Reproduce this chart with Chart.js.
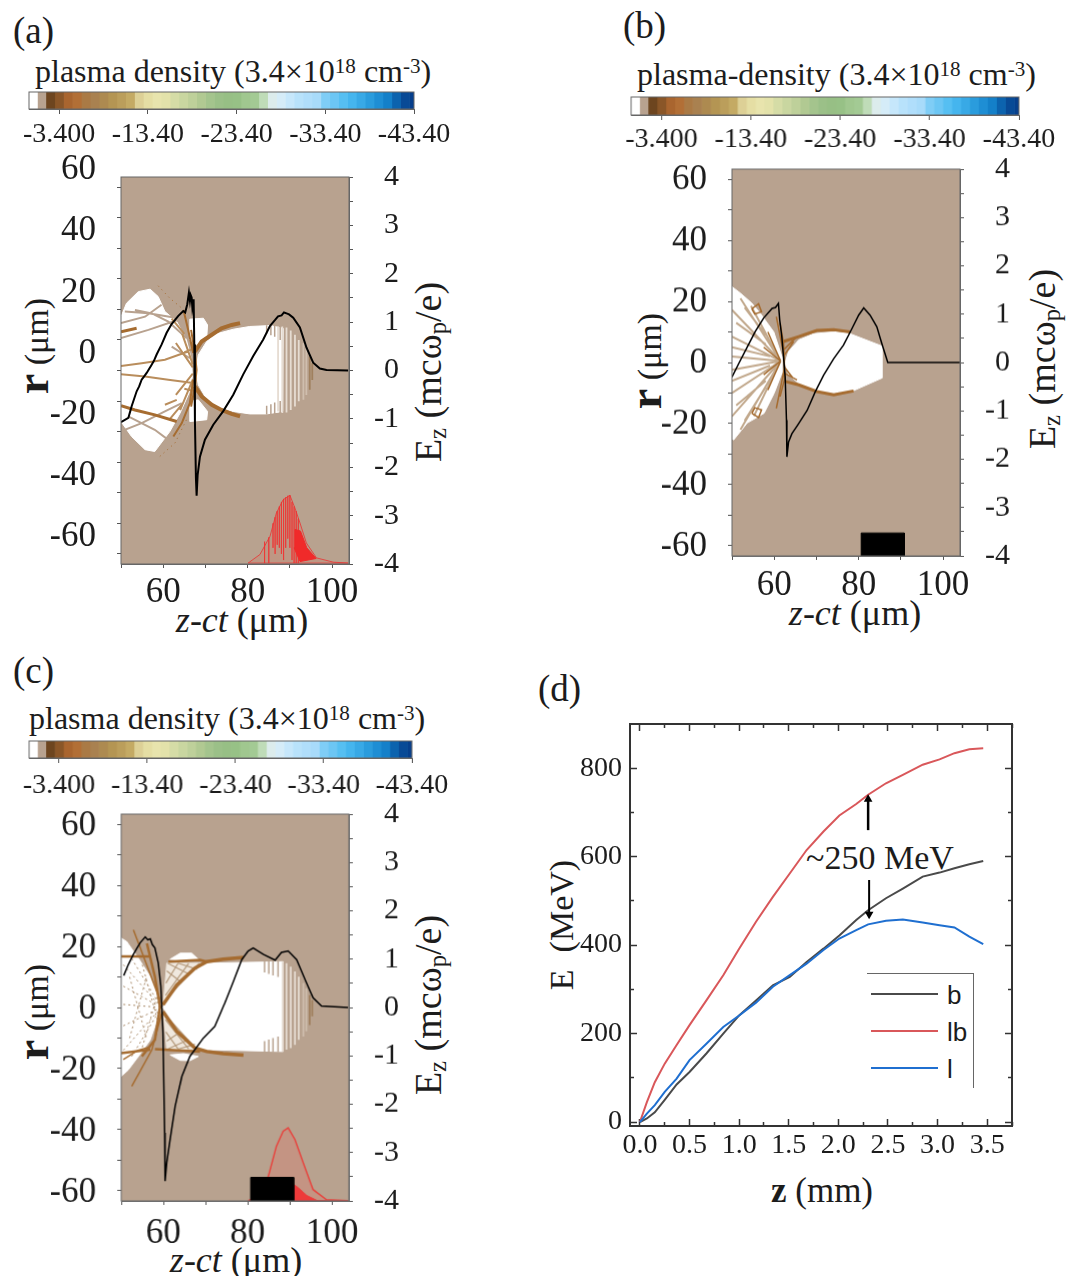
<!DOCTYPE html>
<html>
<head>
<meta charset="utf-8">
<title>Plasma density and energy gain</title>
<script src="https://cdn.jsdelivr.net/npm/chart.js@4"></script>
<style>
  body { margin: 0; background: #fff; }
  #stage { position: relative; width: 1074px; height: 1276px; overflow: hidden; font-family: "Liberation Serif", serif; color: #1c1c1c; }
  canvas { position: absolute; }
  .t { position: absolute; white-space: nowrap; line-height: 1; }
  .mid { transform: translate(-50%, -50%); }
  .up { transform: translate(-50%, -50%) rotate(-90deg); }
  sup { font-size: 66%; line-height: 0; vertical-align: baseline; position: relative; top: -0.42em; }
  sub { font-size: 65%; line-height: 0; vertical-align: baseline; position: relative; top: 0.2em; }
  .leg { position: absolute; background: #666; }
  .lab { position: absolute; font-family: "Liberation Sans", sans-serif; font-size: 26px; line-height: 1; }
</style>
</head>
<body>
<div id="stage">
  <div class="t" style="left:13px;top:12px;font-size:37px">(a)</div>
  <div class="t" style="left:623px;top:7px;font-size:37px">(b)</div>
  <div class="t" style="left:13px;top:652px;font-size:37px">(c)</div>
  <div class="t" style="left:538px;top:670px;font-size:37px">(d)</div>

  <div class="t" style="left:35px;top:55px;font-size:32px">plasma density (3.4×10<sup>18</sup> cm<sup>-3</sup>)</div>
  <div class="t" style="left:637px;top:58px;font-size:32px">plasma-density (3.4×10<sup>18</sup> cm<sup>-3</sup>)</div>
  <div class="t" style="left:29px;top:702px;font-size:32px">plasma density (3.4×10<sup>18</sup> cm<sup>-3</sup>)</div>

  <div class="t up" style="left:33px;top:346px;font-size:34px"><b style="font-size:46px">r</b> (μm)</div>
  <div class="t up" style="left:646px;top:361px;font-size:34px"><b style="font-size:46px">r</b> (μm)</div>
  <div class="t up" style="left:33px;top:1012px;font-size:34px"><b style="font-size:46px">r</b> (μm)</div>

  <div class="t up" style="left:428px;top:372px;font-size:38px">E<sub>z</sub> (mcω<sub>p</sub>/e)</div>
  <div class="t up" style="left:1042px;top:359px;font-size:38px">E<sub>z</sub> (mcω<sub>p</sub>/e)</div>
  <div class="t up" style="left:428px;top:1005px;font-size:38px">E<sub>z</sub> (mcω<sub>p</sub>/e)</div>

  <div class="t mid" style="left:242px;top:620px;font-size:36px"><i>z-ct</i> (μm)</div>
  <div class="t mid" style="left:855px;top:613px;font-size:36px"><i>z-ct</i> (μm)</div>
  <div class="t mid" style="left:236px;top:1260px;font-size:36px"><i>z-ct</i> (μm)</div>

  <div class="t mid" style="left:822px;top:1190px;font-size:35px"><b>z</b> (mm)</div>
  <div class="t up" style="left:562px;top:925px;font-size:34px">E&nbsp; (MeV)</div>
  <div class="t mid" style="left:880px;top:858px;font-size:34px">~250 MeV</div>

  <div class="leg" style="left:867px;top:973px;width:106px;height:1px"></div>
  <div class="leg" style="left:973px;top:973px;width:1px;height:115px"></div>
  <div class="leg" style="left:871px;top:993px;width:67px;height:2px;background:#4a4a4a"></div>
  <div class="leg" style="left:871px;top:1030px;width:67px;height:2px;background:#d9575a"></div>
  <div class="leg" style="left:871px;top:1067px;width:67px;height:2px;background:#1f6fd0"></div>
  <div class="lab" style="left:947px;top:982px">b</div>
  <div class="lab" style="left:947px;top:1019px">lb</div>
  <div class="lab" style="left:947px;top:1056px">l</div>
</div>

<script>
// ---------- axis ticks ----------
var zTicks = [50, 60, 70, 80, 90, 100];
var zLabels = [60, 80, 100];
var rTicks = [-60, -50, -40, -30, -20, -10, 0, 10, 20, 30, 40, 50, 60];
var rLabels = [-60, -40, -20, 0, 20, 40, 60];
var ezTicks = [-4, -3.5, -3, -2.5, -2, -1.5, -1, -0.5, 0, 0.5, 1, 1.5, 2, 2.5, 3, 3.5, 4];
var ezLabels = [-4, -3, -2, -1, 0, 1, 2, 3, 4];

// ---------- colour bar ----------
var cbTicks = [-3.4, -13.4, -23.4, -33.4, -43.4];
var cbLabels = ['-3.400', '-13.40', '-23.40', '-33.40', '-43.40'];
var cbWidths = [0.95, 0.95, 1, 1, 1, 1, 1, 1, 1, 1, 1, 1, 1, 1, 1, 1, 1, 1, 1, 1, 1, 1, 1, 1, 1, 1, 1, 1, 1, 1, 1, 1, 1, 1, 1, 1, 1, 1, 1, 1, 1, 1, 1, 0.5];
var cbColors = ['#ffffff', '#b8a28f',
  '#6d451f', '#8a5628', '#a9652f', '#b26f36', '#aa7a45', '#a98150', '#ad8a50', '#b49553', '#bb9e5b', '#c4aa64',
  '#ddd096', '#e5dea4', '#e8e4ad', '#e3e2aa',
  '#d5dca6', '#c9d6a0', '#bed09a', '#b1c992', '#a4c48d', '#9bc088', '#97bf85', '#97c186', '#a0c78f', '#a3ca94',
  '#bfdcb8', '#dcecec',
  '#d5ecf8', '#c6e7fb', '#b8e2fb', '#b0defb', '#a8dbfa',
  '#7fcdf6', '#6cc6f4', '#56bff2', '#45b5ee', '#38a9e6', '#2a9cdd',
  '#1e8ed4', '#1480c9', '#0c63ae', '#084a96', '#063f8c'];

// ---------- panel (a), [z, value] ----------
var aEz = [[50,-1.07],[51.74,-0.98],[52.2,-0.84],[52.52,-0.74],[53.71,-0.43],[54.3,-0.33],[54.89,-0.19],[55.4,-0.13],[56.08,-0.05],[57.26,0.12],[57.8,0.2],[58.44,0.33],[59.63,0.54],[60.81,0.78],[61.99,0.96],[63.57,1.13],[64.75,1.23],[65.2,1.2],[65.7,1.37],[66.09,1.61],[66.33,1.44],[66.5,1.56],[66.73,1.51],[66.9,1.3],[67.2,1.47],[67.36,0.54],[67.51,-1.05],[67.75,-2.23],[67.91,-2.59],[68.15,-2.16],[68.7,-1.78],[69.88,-1.43],[71.85,-1.12],[74.22,-0.84],[76.59,-0.5],[78.95,-0.08],[81.32,0.3],[83.69,0.64],[85.27,0.92],[86.45,1.04],[87.2,1.12],[88.03,1.14],[88.6,1.2],[89.21,1.18],[89.8,1.16],[90.79,1.09],[92.37,0.89],[93.94,0.47],[95.52,0.16],[97.1,0.04],[98.68,0.01],[103.8,0]];
var aWake = [[50,13.3],[50,17.6],[51.3,22],[54.1,25.8],[56.9,26.6],[58.8,24.2],[60.4,19.3],[63.2,16],[65.5,10],[66.7,3.5],[66.9,-2],[66.1,-7.4],[64,-13.9],[61.6,-19.9],[58,-26.5],[55.7,-25.9],[52.5,-21.6],[50,-16.7]];
var aEarTop = [[66.3,16.8],[69.5,17.1],[70.5,14.9],[70.3,10.6],[67.9,8.4],[66.3,10]];
var aEarBottom = [[66.3,-10.1],[68.3,-9.6],[70.5,-13.4],[70.3,-16.1],[66.3,-16.7]];
var aBubble = [[67.75,0],[68.3,5.1],[70.3,9.5],[72.6,12],[76.6,13.5],[80.5,14.4],[85.3,14.7],[88.4,13.8],[88.3,-13.4],[84.5,-14.2],[80.5,-14.2],[76.6,-13.4],[72.6,-11.8],[69.9,-8.5],[68.3,-4.7]];
var aStripesLight = [[87.2,14.4,-13.4],[88.2,14.4,-13.9],[89.2,14.1,-13.7],[90.2,13.1,-12.9],[91.2,11.7,-11.8],[92.1,10,-10.1]];
var aStripesMid = [[93.2,8.9,-9.6],[93.9,7.3,-8]];
var aStripesDark = [[94.7,4.6,-6.3],[95.3,2.4,-3.1]];
var aComb = [[84.5,14.8,12],[85.5,14.8,11.5],[86.4,14.8,11],[87.7,14.8,10],[84.5,-11.5,-14.4],[85.5,-11,-14.4],[86.4,-10.5,-14.4],[87.7,-10,-14.4]];
var aSheathTop = [[67.5,6.2],[69.1,9.5],[71.5,11.7],[73.8,13.8],[76.2,14.9],[78.2,15.5]];
var aSheathBottom = [[67.5,-5.2],[69.1,-8.5],[71.5,-11.2],[73.8,-12.9],[76.2,-14.2],[78.2,-15]];
var aArc = [[[66.6,13.3],[67.5,5.7],[67.9,0.2],[67.5,-5.2],[66.6,-11.8]],[[64.8,19.8],[65.9,13.3],[67.1,5.7]],[[67.1,-3],[66.3,-10.7],[64.4,-17.2],[62.4,-21.6]]];
var aStreakThick = [[[50,12.7],[53.7,13.8]],[[50,-11.5],[53.3,-12.9],[58,-14.5],[63.2,-16.7]]];
var aStreakBrown = [[[50,1.5],[54.9,2.4],[60.4,3.5],[65.9,6.2]],[[50,-1.2],[55.7,-2],[61.2,-3],[67.1,-4.1]],[[60.4,-11.2],[63.2,-9.6]],[[64.5,12],[67,2]],[[64,-13],[67,-3]],[[63,9],[67,1]],[[63,-8],[67,-1]],[[65,6],[68,7.5]],[[65,-6],[68,-7]],[[62,17],[65,12]],[[61.5,-16],[64.5,-11]]];
var aStreakBg = [[[50.9,19.3],[56.5,18.7],[63.6,17.1]],[[53.3,19.8],[57.3,18.7],[61.2,16],[65.5,10.6]],[[50,15.5],[55.7,17.6],[59.6,21.5]],[[50,10.6],[56.5,13.3],[63.6,16.6]],[[50,-19.9],[54.9,-17.2],[60.4,-13.4],[64.4,-10.7]],[[51.7,-15],[58,-19.4],[61.2,-22.7]],[[62,7.8],[66.3,4]]];
var aRim = [[[58.8,27.7],[61.6,23.6],[64.4,20.4]],[[59.2,-28.1],[62.8,-23.7],[65.9,-15]]];
var aRed = [[80.1,-63],[82.9,-60.2],[85.3,-54.2],[86.8,-46.6],[88.4,-42.3],[90,-40.8],[91.2,-45],[92.4,-49.9],[93.9,-56.4],[96.3,-61.3],[100.3,-62.7],[103.8,-63]];
var aRedBlob = [[91.2,-52],[92.5,-52.5],[94,-58],[96.2,-61.5],[92.4,-62.5],[91,-58]];
var aRedStripes = [[84,-56,-63],[85,-54.6,-63],[86,-50,-58],[86.5,-48,-60],[87,-46,-57],[87.5,-44.5,-58],[88,-43,-60],[88.5,-42,-62],[89,-41.5,-58],[89.5,-41,-55],[90,-40.8,-58],[90.5,-43,-62],[91,-44.5,-63],[91.5,-46,-63],[92,-48.5,-63]];

// ---------- panel (b) ----------
var bEz = [[50,-0.3],[51.6,-0.02],[53.6,0.32],[55.5,0.64],[57.5,0.92],[59.5,1.12],[60.3,1.14],[61,1.22],[61.3,0.88],[61.8,0.53],[62.6,-0.3],[62.9,-1.19],[63,-1.95],[63.4,-1.64],[64.2,-1.47],[65.8,-1.26],[67.8,-0.99],[69.7,-0.61],[71.7,-0.26],[74.1,0.08],[76.4,0.36],[78.4,0.7],[80,0.98],[81.2,1.13],[82.7,0.98],[84.3,0.74],[85.5,0.39],[86.9,0],[104,0]];
var bWake = [[50,24.8],[52,22.7],[54.7,19.4],[56.7,16.1],[59.9,10],[61.8,2],[61.8,-3.5],[60,-10],[57.6,-16.6],[53.6,-19.8],[50.4,-25.3],[50,-25]];
var bBubble = [[62.6,0],[63.4,3.6],[65.8,7.4],[69.3,9.4],[74.1,10.1],[78,9.4],[85.5,5.4],[85.5,-5.1],[78.8,-9.2],[74.1,-10],[69.3,-9.2],[65.8,-6.8],[63.4,-4]];
var bSheathTop = [[62.2,6.9],[65.8,8.5],[70.1,10.5],[74.1,10.7],[78,10]];
var bSheathBottom = [[62.6,-6.2],[65.8,-7.3],[70.1,-9.5],[74.1,-10.6],[78.8,-9.3]];
var bThreads = [[[62.2,4.1],[65,8]],[[62.2,2],[64.6,6.9]],[[62.4,-3.5],[65.4,-5.7]],[[62.4,-1.5],[64.4,-5]],[[61.4,12.9],[62.2,6.3],[62.4,0.9],[62.4,-5.7],[61.4,-11.1]],[[54.7,17.6],[56.3,19.2],[57,16.6],[55.4,15.9],[54.7,17.6]],[[54.7,-16.6],[56.3,-18],[57,-15.5],[55.4,-14.8],[54.7,-16.6]],[[60.5,15],[62.2,3]],[[60.5,-15],[62.4,-2]],[[61.5,0.5],[58.5,10]],[[61.5,0.5],[58.5,-9]],[[61.5,0.5],[57.5,5]],[[61.5,0.5],[57.5,-4]]];
var bRays = [[[61.5,0.5],[50,17.2]],[[61.5,0.5],[50,8.5]],[[61.5,0.5],[50,2]],[[61.5,0.5],[50,-2.4]],[[61.5,0.5],[50,-10]],[[61.5,0.5],[50,-17.6]],[[61.5,0.5],[54.5,18.5]],[[61.5,0.5],[55.2,-17.5]],[[61.5,0.5],[52,21]],[[61.5,0.5],[52,-22]],[[58,6],[51,13]],[[58,-6],[51,-14]],[[59,2],[50,5]],[[59,-1],[50,-6]],[[58,9],[53,18]],[[58,-8],[53,-19]]];
var bBlock = [[80.6,-55.8],[90.8,-55.8],[90.8,-63.5],[80.6,-63.5]];

// ---------- panel (c) ----------
var cEz = [[50.6,0.66],[51.7,0.89],[52.9,1.1],[54.5,1.34],[55.7,1.46],[56.3,1.4],[56.9,1.42],[57.4,1.3],[58,1.23],[58.8,0.92],[59.4,0.44],[59.9,-0.52],[60.3,-2.59],[60.4,-3.59],[60.8,-3.21],[61.6,-2.73],[62.8,-2.04],[64.4,-1.42],[66.3,-1.01],[69.5,-0.63],[72.2,-0.39],[74.6,0.1],[76.6,0.54],[78.6,0.99],[80.1,1.17],[81.3,1.23],[83.7,1.1],[86.5,0.98],[88,1.14],[89.6,1.17],[91.6,0.99],[93.6,0.58],[95.5,0.2],[97.5,0.03],[103.8,0]];
var cWake = [[50,22.7],[51.3,21.6],[54.1,16.1],[56.9,10.1],[59.6,0.3],[56.9,-10.6],[54.1,-16],[51.7,-20.4],[50,-22.5]];
var cBubble = [[59.9,0],[63.2,7.4],[67.5,12.9],[70.3,14.5],[88.4,15],[88.4,-14.4],[70.3,-13.8],[67.5,-12.7],[63.2,-7.3]];
var cEarTop = [[61.6,15.8],[64,17.8],[66.7,17.8],[68.3,15.8],[64.8,15.3]];
var cEarBottom = [[61.6,-15.5],[64,-17.3],[66.3,-17.4],[68.3,-16],[64.8,-15.1]];
var cMeshTop = [[60,1.4],[60.8,14.5],[69.5,14.5],[64.9,9]];
var cMeshBottom = [[60,-1.3],[60.8,-13.6],[68.7,-13.6],[64,-7.3]];
var cMeshHatch = [[[60.5,4],[66,14.5]],[[60.6,8],[63.5,14.5]],[[61.5,4],[68.5,14.5]],[[60.8,12],[64,8.5]],[[61,14.5],[66,11]],[[63.5,14.5],[68,12.5]],[[60.5,-4],[66,-13.6]],[[60.6,-8],[63.5,-13.6]],[[61.5,-4],[67.8,-13.6]],[[60.8,-11],[64,-8]],[[61,-13.6],[66,-10.5]],[[63.5,-13.6],[67.5,-12]]];
var cFanDots = [[[50.5,14],[59.5,0]],[[52.5,16],[59.5,0]],[[50.5,7],[59.5,0]],[[50.5,1],[59.5,0]],[[50.5,-6],[59.5,0]],[[50.5,-14],[59.5,0]],[[52.5,-16],[59.5,0]],[[55,14],[59,-6]],[[55,-13],[59,6]],[[52,10],[56,-10]],[[52,-10],[56,10]]];
var cStripesLight = [[88.3,15,-14.4],[89.2,14.5,-13.8],[90.2,13.4,-13.3],[91.2,11.8,-12.2],[92.1,10.1,-10.6]];
var cStripesMid = [[93.2,8,-9.5],[93.9,6.3,-7.8]];
var cStripesDark = [[94.7,4.1,-5.7],[95.3,2.5,-2.9]];
var cComb = [[84,15.2,11.5],[85,15.2,11],[86,15.2,10.5],[87.2,15.2,10],[84,-11,-14.6],[85,-10.5,-14.6],[86,-10,-14.6],[87.2,-9.5,-14.6]];
var cSheathTop = [[59.9,0.9],[63.2,7.4],[67.5,12.9],[70.3,15],[74.2,15.8],[79,16.4]];
var cSheathBottom = [[59.9,-1.3],[63.2,-7.8],[67.5,-13.3],[70.3,-14.4],[74.2,-15.1],[79,-15.6]];
var cFlats = [[[61.2,15],[68.7,15.6],[70.3,15]],[[58,-13.6],[68.7,-14.4]],[[50,16.7],[56.9,16.7]],[[50,-14.9],[56.9,-13.8]]];
var cCore = [[56.1,21],[58,10.1],[59.2,0.3],[58,-10.6],[54.9,-16]];
var cFan = [[[52.9,25.4],[59.2,2.5]],[[52.5,-25.8],[57.3,-13.8],[59.6,-1.9]],[[50.5,-17],[54,-14],[56.5,-13]]];
var cRed = [[80.1,-63.2],[82.9,-61.8],[84.9,-55.2],[86.8,-45.4],[88.4,-40.5],[89.6,-39.4],[91.2,-43.2],[93.2,-50.9],[95.5,-59.6],[98.7,-62.9],[103.8,-63.2]];
var cRedBlob = [[91,-58],[92,-59],[94,-61.5],[96.5,-63.2],[91,-63.2]];
var cBlock = [[80.7,-55.6],[90.9,-55.6],[90.9,-63.5],[80.7,-63.5]];

// ---------- panel (d) ----------
var dZ = [0, 0.07, 0.15, 0.25, 0.37, 0.5, 0.67, 0.84, 1, 1.17, 1.34, 1.51, 1.68, 1.85, 2.01, 2.18, 2.3, 2.48, 2.65, 2.85, 3.02, 3.17, 3.32, 3.46];
var dB = [0, 8, 22, 50, 85, 113, 155, 200, 241, 275, 309, 328, 362, 392, 422, 457, 479, 506, 528, 555, 564, 574, 583, 590];
var dLb = [0, 45, 90, 132, 174, 219, 275, 332, 392, 453, 509, 562, 615, 657, 693, 719, 740, 766, 785, 808, 820, 834, 843, 845];
var dL = [0, 19, 38, 68, 98, 140, 177, 215, 241, 270, 306, 332, 358, 389, 415, 434, 447, 455, 458, 451, 445, 440, 419, 402];
var dZTicks = [0, 0.5, 1, 1.5, 2, 2.5, 3, 3.5];
var dZMinor = [0.25, 0.75, 1.25, 1.75, 2.25, 2.75, 3.25, 3.75];
var dETicks = [0, 200, 400, 600, 800];
var dEMinor = [100, 300, 500, 700];
var upArrow = [[2.3, 660], [2.3, 730]];
var downArrow = [[2.31, 547], [2.31, 470]];

var FIELD = '#b8a28f';
var BROWN = '#a66c30';
var TAN = '#b98d5c';

Chart.defaults.font.family = '"Liberation Serif", serif';
Chart.defaults.color = '#1c1c1c';
Chart.defaults.animation = false;

// background and outline of a plot
Chart.register({
  id: 'plotFrame',
  beforeDatasetsDraw: function(chart, args, opts) {
    if (!opts.fill) return;
    var a = chart.chartArea;
    chart.ctx.fillStyle = opts.fill;
    chart.ctx.fillRect(a.left, a.top, a.right - a.left, a.bottom - a.top);
  },
  afterDatasetsDraw: function(chart, args, opts) {
    if (!opts.color) return;
    var a = chart.chartArea;
    chart.ctx.strokeStyle = opts.color;
    chart.ctx.lineWidth = opts.width || 1;
    chart.ctx.strokeRect(a.left, a.top, a.right - a.left, a.bottom - a.top);
  }
});

function pts(list) {
  return list.map(function(p) { return { x: p[0], y: p[1] }; });
}

function line(list, color, width, axis) {
  return { data: pts(list), showLine: true, fill: false, borderColor: color, borderWidth: width, pointRadius: 0, yAxisID: axis || 'y', tension: 0 };
}

function poly(list, color) {
  var ds = line(list.concat([list[0]]), color, 1);
  ds.fill = 'shape';
  ds.backgroundColor = color;
  return ds;
}

// many separate pieces in one dataset, split by gaps
function segs(groups, color, width, dash) {
  var flat = [];
  groups.forEach(function(g) {
    flat = flat.concat(g);
    flat.push([NaN, NaN]);
  });
  var ds = line(flat, color, width);
  if (dash) ds.borderDash = dash;
  return ds;
}

function stripes(list, color, width) {
  return segs(list.map(function(s) { return [[s[0], s[1]], [s[0], s[2]]]; }), color, width);
}

function addCanvas(left, top, w, h) {
  var cv = document.createElement('canvas');
  cv.width = w;
  cv.height = h;
  cv.style.left = left + 'px';
  cv.style.top = top + 'px';
  cv.style.width = w + 'px';
  cv.style.height = h + 'px';
  document.getElementById('stage').appendChild(cv);
  return cv;
}

function fixedTicks(values) {
  return function(scale) {
    scale.ticks = values.map(function(v) { return { value: v }; });
  };
}

function colorBar(left, top, right, bottom, labelPad) {
  var cv = addCanvas(left - 40, top - 2, right - left + 100, bottom - top + 46);
  var datasets = cbWidths.map(function(w, i) {
    return { data: [-w], backgroundColor: cbColors[i], borderWidth: 0, barPercentage: 1, categoryPercentage: 1 };
  });
  new Chart(cv, {
    type: 'bar',
    data: { labels: ['density'], datasets: datasets },
    options: {
      indexAxis: 'y',
      responsive: false,
      events: [],
      layout: { autoPadding: false, padding: { left: 40, right: 60, top: 2, bottom: 0 } },
      plugins: { legend: { display: false }, tooltip: { enabled: false }, plotFrame: { color: '#666' } },
      scales: {
        x: {
          type: 'linear', stacked: true, reverse: true, min: -43.4, max: 0,
          afterBuildTicks: fixedTicks(cbTicks),
          afterFit: function(s) { s.height = 44; },
          grid: { drawOnChartArea: false, tickLength: 5, color: '#555' },
          border: { color: '#666' },
          ticks: { font: { size: 28 }, padding: labelPad, autoSkip: false, maxRotation: 0, minRotation: 0,
            callback: function(v, i) { return cbLabels[i]; } }
        },
        y: { stacked: true, display: false }
      }
    }
  });
}

function fieldPanel(left, top, right, bottom, labelOffset, xPad, layers) {
  // top room has to cover half a label plus the tick padding, or the layout pushes the plot down
  var padL = 70, padR = 50, padT = 46, padB = 50;
  var cv = addCanvas(left - padL, top - padT, right - left + padL + padR, bottom - top + padT + padB);
  new Chart(cv, {
    type: 'scatter',
    data: { datasets: layers.slice().reverse() },
    options: {
      responsive: false,
      events: [],
      layout: { autoPadding: false, padding: { top: padT } },
      plugins: { legend: { display: false }, tooltip: { enabled: false }, plotFrame: { fill: FIELD, color: '#666' } },
      scales: {
        x: {
          type: 'linear', min: 50, max: 104,
          afterBuildTicks: fixedTicks(zTicks),
          afterFit: function(s) { s.height = padB; },
          grid: { drawOnChartArea: false, tickLength: 4, color: '#555' },
          border: { color: '#666' },
          ticks: { font: { size: 35 }, padding: xPad, autoSkip: false, maxRotation: 0, minRotation: 0,
            callback: function(v) { return zLabels.indexOf(v) >= 0 ? String(v) : ''; } }
        },
        y: {
          type: 'linear', min: -63.3, max: 63.3,
          afterBuildTicks: fixedTicks(rTicks),
          afterFit: function(s) { s.width = padL; },
          grid: { drawOnChartArea: false, tickLength: 4, color: '#555' },
          border: { color: '#666' },
          ticks: { font: { size: 35 }, padding: 21, autoSkip: false, labelOffset: labelOffset,
            callback: function(v) { return rLabels.indexOf(v) >= 0 ? String(v) : ''; } }
        },
        y2: {
          type: 'linear', position: 'right', min: -4, max: 4,
          afterBuildTicks: fixedTicks(ezTicks),
          afterFit: function(s) { s.width = padR; },
          grid: { drawOnChartArea: false, tickLength: 4, color: '#555' },
          border: { color: '#666' },
          ticks: { font: { size: 30 }, padding: 11, autoSkip: false, crossAlign: 'far',
            callback: function(v) { return ezLabels.indexOf(v) >= 0 ? String(v) : ''; } }
        }
      }
    }
  });
}

// tick-only axis that takes no room, used for the minor ticks and the far sides of panel (d)
function tickAxis(axis, position, min, max, values, len) {
  return {
    type: 'linear', axis: axis, position: position, min: min, max: max, weight: -1,
    afterBuildTicks: fixedTicks(values),
    afterFit: function(s) { if (axis === 'x') s.height = 0; else s.width = 0; },
    grid: { drawOnChartArea: false, tickLength: len, color: '#333', tickWidth: 1.5 },
    border: { display: false },
    ticks: { display: false, autoSkip: false }
  };
}

function energyPanel() {
  var cv = addCanvas(570, 684, 462, 492);
  var cols = [['#4a4a4a', dB], ['#d9575a', dLb], ['#1f6fd0', dL]];
  var layers = cols.map(function(c) {
    return line(dZ.map(function(z, i) { return [z, c[1][i]]; }), c[0], 2);
  });
  layers.push(line(upArrow, '#000', 2.5));
  layers.push(line(downArrow, '#000', 2));
  [[upArrow[1], 0], [downArrow[1], 180]].forEach(function(tip) {
    var ds = line([tip[0]], '#000', 0);
    ds.showLine = false;
    ds.pointStyle = 'triangle';
    ds.pointRadius = 5;
    ds.pointRotation = tip[1];
    ds.pointBackgroundColor = '#000';
    ds.pointBorderColor = '#000';
    layers.push(ds);
  });
  var xMin = -0.1, xMax = 3.75, yMin = -9, yMax = 900;
  new Chart(cv, {
    type: 'scatter',
    data: { datasets: layers.reverse() },
    options: {
      responsive: false,
      events: [],
      layout: { autoPadding: false, padding: { top: 40, right: 20 } },
      plugins: { legend: { display: false }, tooltip: { enabled: false }, plotFrame: { color: '#333', width: 2 } },
      scales: {
        x: {
          type: 'linear', min: xMin, max: xMax,
          afterBuildTicks: fixedTicks(dZTicks),
          afterFit: function(s) { s.height = 50; },
          grid: { drawOnChartArea: false, tickLength: -7, color: '#333', tickWidth: 1.5 },
          border: { display: false },
          ticks: { font: { size: 28 }, padding: 10, autoSkip: false, maxRotation: 0, minRotation: 0,
            callback: function(v) { return v.toFixed(1); } }
        },
        y: {
          type: 'linear', min: yMin, max: yMax,
          afterBuildTicks: fixedTicks(dETicks),
          afterFit: function(s) { s.width = 60; },
          grid: { drawOnChartArea: false, tickLength: -7, color: '#333', tickWidth: 1.5 },
          border: { display: false },
          ticks: { font: { size: 28 }, padding: 15, autoSkip: false,
            callback: function(v) { return String(v); } }
        },
        xMinor: tickAxis('x', 'bottom', xMin, xMax, dZMinor, -4),
        yMinor: tickAxis('y', 'left', yMin, yMax, dEMinor, -4),
        xTop: tickAxis('x', 'top', xMin, xMax, dZTicks, -7),
        xTopMinor: tickAxis('x', 'top', xMin, xMax, dZMinor, -4),
        yRight: tickAxis('y', 'right', yMin, yMax, dETicks, -7),
        yRightMinor: tickAxis('y', 'right', yMin, yMax, dEMinor, -4)
      }
    }
  });
}

colorBar(28.5, 92, 414, 109, 4);
colorBar(631, 97, 1018.5, 115, 3);
colorBar(29, 741, 411.5, 758, 6);

// layers go bottom to top
fieldPanel(121, 177, 349, 564, -17, 4, [
  poly(aWake, '#ffffff'), poly(aEarTop, '#ffffff'), poly(aEarBottom, '#ffffff'), poly(aBubble, '#ffffff'),
  stripes(aComb, FIELD, 1.5),
  stripes(aStripesLight, '#e6dcd2', 1.8), stripes(aStripesMid, '#cfbeae', 1.8), stripes(aStripesDark, '#a0805e', 1.8),
  segs(aStreakBg, FIELD, 2),
  segs(aStreakBrown, TAN, 2), segs(aStreakThick, BROWN, 3),
  segs(aRim, BROWN, 1, [1, 4]), segs(aArc, BROWN, 2),
  line(aSheathTop, BROWN, 4), line(aSheathBottom, BROWN, 4),
  (function() { var d = poly(aRed, 'rgba(240,70,60,0.12)'); d.borderColor = 'rgba(235,50,50,0.8)'; return d; })(),
  stripes(aRedStripes, 'rgba(240,50,50,0.6)', 1), poly(aRedBlob, '#f02a2a'),
  line(aEz, '#000', 2, 'y2')
]);

fieldPanel(731.75, 169.3, 960, 555.7, 1, 5, [
  poly(bWake, '#ffffff'), poly(bBubble, '#ffffff'),
  segs(bRays, '#c2a98d', 2), segs(bThreads, BROWN, 1.5),
  line(bSheathTop, BROWN, 3), line(bSheathBottom, BROWN, 3),
  poly(bBlock, '#000'),
  line(bEz, '#000', 1.5, 'y2')
]);

fieldPanel(121, 814.3, 348.7, 1201, 2, 8, [
  poly(cWake, '#ffffff'), poly(cEarTop, '#ffffff'), poly(cEarBottom, '#ffffff'),
  poly(cMeshTop, '#f0e8de'), poly(cMeshBottom, '#f0e8de'), poly(cBubble, '#ffffff'),
  stripes(cComb, FIELD, 1.5),
  stripes(cStripesLight, '#e6dcd2', 1.8), stripes(cStripesMid, '#cfbeae', 1.8), stripes(cStripesDark, '#a0805e', 1.8),
  segs(cMeshHatch, '#b59a7c', 1.2), segs(cFanDots, '#a98a68', 1, [2, 3]),
  segs(cFlats, BROWN, 2.5), segs(cFan, BROWN, 1.5),
  line(cCore, BROWN, 2.5),
  line(cSheathTop, BROWN, 3.5), line(cSheathBottom, BROWN, 3.5),
  (function() { var d = poly(cRed, 'rgba(230,110,100,0.28)'); d.borderColor = 'rgba(235,60,55,0.9)'; d.borderWidth = 1.5; return d; })(),
  poly(cRedBlob, '#ee3a3a'),
  poly(cBlock, '#000'),
  line(cEz, '#000', 1.5, 'y2')
]);

energyPanel();
</script>
</body>
</html>
